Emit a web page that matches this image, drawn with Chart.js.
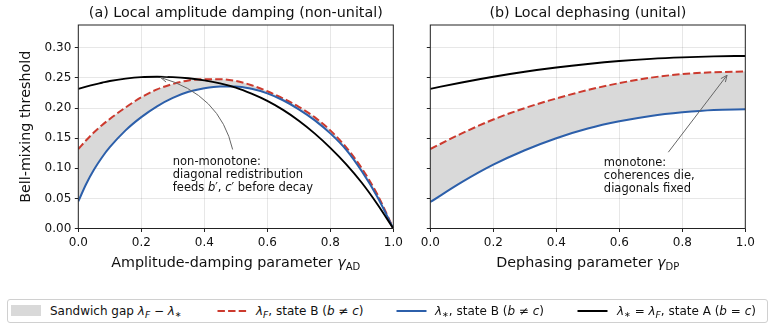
<!DOCTYPE html>
<html>
<head>
<meta charset="utf-8">
<script src="https://cdn.jsdelivr.net/npm/chart.js@4.4.1/dist/chart.umd.min.js"></script>
<style>
  html, body { margin: 0; padding: 0; background: #fff; }
  #wrap { position: relative; width: 775px; height: 330px; overflow: hidden; font-family: "DejaVu Sans", sans-serif; color: #111; }
  #cA { position: absolute; left: 0; top: 0; }
  #cB { position: absolute; left: 400px; top: 0; }
  #legendBox { position: absolute; left: 7px; top: 299px; width: 761px; height: 24px; border: 1px solid #d0d0d0; border-radius: 3px; box-sizing: border-box; }
  .lg { position: absolute; top: 299px; height: 24px; line-height: 24px; font-size: 12px; white-space: nowrap; }
  .lg .s { font-size: 9px; position: relative; top: 3px; }
  .lg .a { font-size: 8px; position: relative; top: 2px; }
  .icon { position: absolute; }
</style>
</head>
<body>
<div id="wrap">
  <canvas id="cA" width="420" height="290"></canvas>
  <canvas id="cB" width="375" height="290"></canvas>
  <div id="legendBox"></div>
  <div class="icon" style="left:11px;top:305px;width:30px;height:11px;background:#d9d9d9;"></div>
  <div class="lg" style="left:50px;">Sandwich gap <i>λ</i><span class="s"><i>F</i></span> − <i>λ</i><span class="a">∗</span></div>
  <svg class="icon" style="left:217px;top:307px;" width="31" height="8"><line x1="0.5" y1="4" x2="30.5" y2="4" stroke="#cc3a2e" stroke-width="2" stroke-dasharray="7.4 3.2"/></svg>
  <div class="lg" style="left:256px;"><i>λ</i><span class="s"><i>F</i></span>, state B (<i>b</i> ≠ <i>c</i>)</div>
  <svg class="icon" style="left:396px;top:307px;" width="31" height="8"><line x1="0.5" y1="4" x2="30.5" y2="4" stroke="#2c5faa" stroke-width="2"/></svg>
  <div class="lg" style="left:435px;"><i>λ</i><span class="a">∗</span>, state B (<i>b</i> ≠ <i>c</i>)</div>
  <svg class="icon" style="left:577px;top:307px;" width="31" height="8"><line x1="0.5" y1="4" x2="30.5" y2="4" stroke="#000" stroke-width="2"/></svg>
  <div class="lg" style="left:617px;"><i>λ</i><span class="a">∗</span> = <i>λ</i><span class="s"><i>F</i></span>, state A (<i>b</i> = <i>c</i>)</div>
</div>
<script>
// (a) amplitude damping
const gammaAD = [0.000, 0.025, 0.050, 0.075, 0.10, 0.15, 0.20, 0.25, 0.30, 0.35, 0.40, 0.45, 0.50,
                 0.55, 0.60, 0.65, 0.70, 0.75, 0.80, 0.85, 0.90, 0.95, 1.00];
const adStateA = [0.232, 0.2356, 0.239, 0.242, 0.245, 0.249, 0.2515, 0.252, 0.2515, 0.2495, 0.246, 0.241, 0.234,
                  0.224, 0.212, 0.197, 0.179, 0.158, 0.134, 0.107, 0.076, 0.040, 0.000];
const adLamF = [0.132, 0.1465, 0.160, 0.1715, 0.182, 0.201, 0.218, 0.231, 0.240, 0.246, 0.248, 0.248, 0.245,
                0.238, 0.228, 0.216, 0.202, 0.185, 0.163, 0.135, 0.100, 0.056, 0.000];
const adLamStar = [0.045, 0.074, 0.098, 0.118, 0.135, 0.163, 0.185, 0.203, 0.217, 0.227, 0.233, 0.236, 0.236,
                   0.232, 0.2245, 0.213, 0.198, 0.180, 0.158, 0.131, 0.095, 0.052, 0.000];

// (b) dephasing
const gammaDP = [0.0, 0.1, 0.2, 0.3, 0.4, 0.5, 0.6, 0.7, 0.8, 0.9, 1.0];
const dpStateA = [0.232, 0.2425, 0.252, 0.2603, 0.2673, 0.2732, 0.2781, 0.2818, 0.2843, 0.2859, 0.2866];
const dpLamF = [0.132, 0.158, 0.181, 0.200, 0.216, 0.230, 0.2415, 0.2505, 0.2565, 0.2595, 0.2607];
const dpLamStar = [0.044, 0.077, 0.106, 0.130, 0.150, 0.166, 0.178, 0.187, 0.193, 0.197, 0.198];

const xTicks = [0, 0.2, 0.4, 0.6, 0.8, 1.0];
const yTicks = [0, 0.05, 0.10, 0.15, 0.20, 0.25, 0.30];
const yMax = 0.338;

const FONT = '"DejaVu Sans", sans-serif';

function toPoints(xs, ys) {
  return xs.map((x, i) => ({ x: x, y: ys[i] }));
}

/**
 * Draws a run of text pieces, some italic, starting at x.
 */
function drawRuns(ctx, runs, x, y, size) {
  runs.forEach(([txt, italic]) => {
    ctx.font = (italic ? 'italic ' : '') + size + 'px ' + FONT;
    ctx.fillText(txt, x, y);
    x += ctx.measureText(txt).width;
  });
}

// frame, titles, axis labels and the annotation of each panel
const panelDecor = {
  id: 'panelDecor',
  afterDraw(chart, args, opts) {
    const ctx = chart.ctx;
    const a = chart.chartArea;
    const sx = chart.scales.x, sy = chart.scales.y;
    const cx = (a.left + a.right) / 2;
    ctx.save();

    ctx.strokeStyle = '#222';
    ctx.lineWidth = 1;
    ctx.strokeRect(a.left, a.top, a.right - a.left, a.bottom - a.top);

    ctx.fillStyle = '#111';
    ctx.textAlign = 'center';
    ctx.textBaseline = 'middle';
    ctx.font = '14.3px ' + FONT;
    ctx.fillText(opts.title, cx, 13.5);

    // x label with subscript
    ctx.textAlign = 'left';
    ctx.textBaseline = 'alphabetic';
    ctx.font = '14.3px ' + FONT;
    const w1 = ctx.measureText(opts.xLabel).width;
    ctx.font = 'italic 14.3px ' + FONT;
    const w2 = ctx.measureText('γ').width;
    ctx.font = '10px ' + FONT;
    const w3 = ctx.measureText(opts.xSub).width;
    const x0 = cx - (w1 + w2 + w3) / 2;
    const base = 266.5;
    ctx.font = '14.3px ' + FONT;
    ctx.fillText(opts.xLabel, x0, base);
    ctx.font = 'italic 14.3px ' + FONT;
    ctx.fillText('γ', x0 + w1, base);
    ctx.font = '10px ' + FONT;
    ctx.fillText(opts.xSub, x0 + w1 + w2, base + 3);

    if (opts.yLabel) {
      ctx.save();
      ctx.translate(26, (a.top + a.bottom) / 2);
      ctx.rotate(-Math.PI / 2);
      ctx.textAlign = 'center';
      ctx.textBaseline = 'middle';
      ctx.font = '14.3px ' + FONT;
      ctx.fillText(opts.yLabel, 0, 0);
      ctx.restore();
    }

    // note text
    const n = opts.note;
    const tx = sx.getPixelForValue(n.x);
    const ty = sy.getPixelForValue(n.y);
    ctx.textBaseline = 'middle';
    n.lines.forEach((runs, i) => drawRuns(ctx, runs, tx, ty + i * 13, 11.5));

    // arrow
    const ar = opts.arrow;
    const p0 = [sx.getPixelForValue(ar.from[0]), sy.getPixelForValue(ar.from[1])];
    const p2 = [sx.getPixelForValue(ar.to[0]), sy.getPixelForValue(ar.to[1])];
    let dir0 = p0;
    ctx.strokeStyle = '#666';
    ctx.lineWidth = 1;
    ctx.beginPath();
    ctx.moveTo(p0[0], p0[1]);
    if (ar.ctrl) {
      const c = [sx.getPixelForValue(ar.ctrl[0]), sy.getPixelForValue(ar.ctrl[1])];
      ctx.quadraticCurveTo(c[0], c[1], p2[0], p2[1]);
      dir0 = c;
    } else {
      ctx.lineTo(p2[0], p2[1]);
    }
    ctx.stroke();
    const ang = Math.atan2(p2[1] - dir0[1], p2[0] - dir0[0]);
    const hl = 7, hw = 0.42;
    ctx.beginPath();
    ctx.moveTo(p2[0] - hl * Math.cos(ang - hw), p2[1] - hl * Math.sin(ang - hw));
    ctx.lineTo(p2[0], p2[1]);
    ctx.lineTo(p2[0] - hl * Math.cos(ang + hw), p2[1] - hl * Math.sin(ang + hw));
    ctx.stroke();

    ctx.restore();
  }
};

function makeChart(canvasId, gammas, stateA, lamF, lamStar, yAxisWidth, padRight, showYLabels, decor) {
  const canvas = document.getElementById(canvasId);
  return new Chart(canvas, {
    type: 'line',
    data: {
      datasets: [
        { data: toPoints(gammas, stateA), borderColor: '#000', borderWidth: 1.9, pointRadius: 0, fill: false },
        { data: toPoints(gammas, lamStar), borderColor: '#2c5faa', borderWidth: 2, pointRadius: 0, fill: false },
        { data: toPoints(gammas, lamF), borderColor: '#cc3a2e', borderWidth: 2, borderDash: [7.4, 3.2],
          pointRadius: 0, fill: 1, backgroundColor: '#d9d9d9' }
      ]
    },
    options: {
      responsive: false,
      animation: false,
      events: [],
      layout: { padding: { top: 25, right: padRight, bottom: 39.5, left: 0 } },
      elements: { line: { cubicInterpolationMode: 'monotone' } },
      plugins: {
        legend: { display: false },
        tooltip: { enabled: false },
        filler: { drawTime: 'beforeDatasetsDraw' },
        panelDecor: decor
      },
      scales: {
        x: {
          type: 'linear', min: 0, max: 1,
          border: { display: false },
          grid: { color: 'rgba(0,0,0,0.12)', lineWidth: 0.8, tickLength: 3.5, tickColor: '#222', tickWidth: 1 },
          ticks: { font: { family: FONT, size: 12 }, color: '#111', padding: 3.5, maxRotation: 0 },
          afterBuildTicks: (s) => { s.ticks = xTicks.map((v) => ({ value: v })); },
          afterTickToLabelConversion: (s) => { s.ticks.forEach((t) => { t.label = t.value.toFixed(1); }); },
          afterFit: (s) => { s.height = 22; s.paddingLeft = 0; s.paddingRight = 0; }
        },
        y: {
          min: 0, max: yMax,
          border: { display: false },
          grid: { color: 'rgba(0,0,0,0.12)', lineWidth: 0.8, tickLength: 3.5, tickColor: '#222', tickWidth: 1 },
          ticks: { display: showYLabels, font: { family: FONT, size: 12 }, color: '#111', padding: 3.5 },
          afterBuildTicks: (s) => { s.ticks = yTicks.map((v) => ({ value: v })); },
          afterTickToLabelConversion: (s) => { s.ticks.forEach((t) => { t.label = t.value.toFixed(2); }); },
          afterFit: (s) => { s.width = yAxisWidth; s.paddingTop = 0; s.paddingBottom = 0; }
        }
      }
    },
    plugins: [panelDecor]
  });
}

makeChart('cA', gammaAD, adStateA, adLamF, adLamStar, 78.3, 26.7, true, {
  title: '(a) Local amplitude damping (non-unital)',
  xLabel: 'Amplitude-damping parameter ',
  xSub: 'AD',
  yLabel: 'Bell-mixing threshold',
  note: {
    x: 0.30, y: 0.111,
    lines: [
      [['non-monotone:', false]],
      [['diagonal redistribution', false]],
      [['feeds ', false], ['b', true], ['′, ', false], ['c', true], ['′ before decay', false]]
    ]
  },
  arrow: { from: [0.490, 0.1312], ctrl: [0.450, 0.2228], to: [0.2616, 0.2507] }
});

makeChart('cB', gammaDP, dpStateA, dpLamF, dpLamStar, 30.3, 29.7, false, {
  title: '(b) Local dephasing (unital)',
  xLabel: 'Dephasing parameter ',
  xSub: 'DP',
  yLabel: null,
  note: {
    x: 0.551, y: 0.109,
    lines: [
      [['monotone:', false]],
      [['coherences die,', false]],
      [['diagonals fixed', false]]
    ]
  },
  arrow: { from: [0.7556, 0.1267], to: [0.942, 0.2545] }
});
</script>
</body>
</html>
